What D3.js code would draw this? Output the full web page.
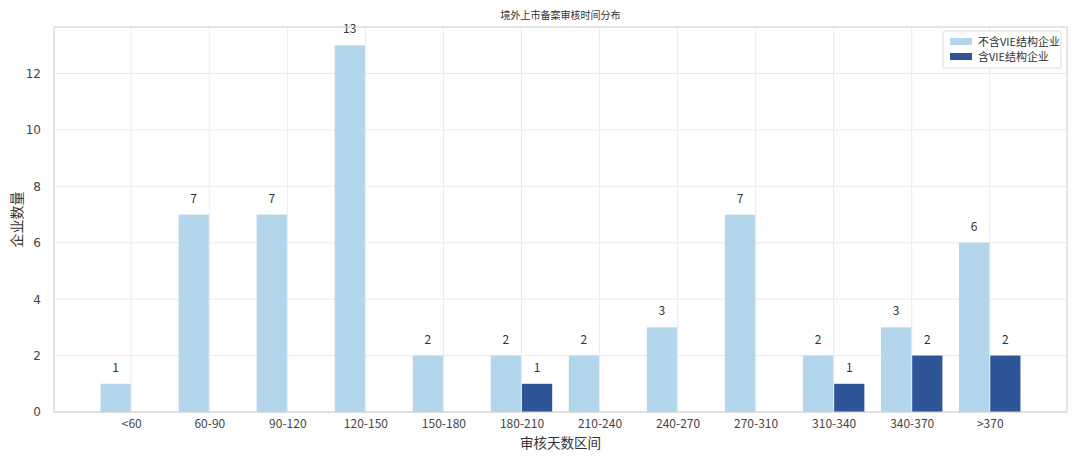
<!DOCTYPE html>
<html><head><meta charset="utf-8">
<script src="https://cdn.jsdelivr.net/npm/d3@7"></script>
<style>body{margin:0;background:#fff}svg{display:block}</style>
</head><body>
<script>
const categories = ["<60","60-90","90-120","120-150","150-180","180-210","210-240","240-270","270-310","310-340","340-370",">370"];
const nonVIE = [1,7,7,13,2,2,2,3,7,2,3,6];
const withVIE = [0,0,0,0,0,1,0,0,0,1,2,2];
const yTicks = [0,2,4,6,8,10,12];
const seriesNames = ["不含VIE结构企业","含VIE结构企业"];
const colors = ["#b4d6ec","#2e5597"];
const title = "境外上市备案审核时间分布";
const xTitle = "审核天数区间";
const yTitle = "企业数量";

const W=1080,H=463;
const m={l:54,r:13,t:27,b:51};
const font='"Noto Sans CJK SC","Noto Sans",sans-serif';
const svg=d3.select("body").append("svg").attr("width",W).attr("height",H);
const bw=0.4;
const x=d3.scaleLinear().domain([-0.99,categories.length-1+0.99]).range([m.l,W-m.r]);
const y=d3.scaleLinear().domain([0,13.65]).range([H-m.b,m.t]);

// grid
const g=svg.append("g");
g.selectAll(".vg").data(categories).join("line")
 .attr("x1",(d,i)=>x(i)).attr("x2",(d,i)=>x(i)).attr("y1",m.t).attr("y2",H-m.b)
 .attr("stroke","#ebebeb").attr("stroke-width",1);
g.selectAll(".hg").data(yTicks).join("line")
 .attr("x1",m.l).attr("x2",W-m.r).attr("y1",d=>y(d)).attr("y2",d=>y(d))
 .attr("stroke","#ebebeb").attr("stroke-width",1);

// bars
const series=[nonVIE,withVIE];
series.forEach((vals,s)=>{
  const off = s===0 ? -bw/2 : bw/2;
  svg.append("g").selectAll("rect").data(vals).join("rect")
   .attr("x",(d,i)=>x(i+off-bw/2)+0.5).attr("width",x(bw)-x(0)-1)
   .attr("y",d=>y(d)).attr("height",d=>y(0)-y(d))
   .attr("fill",colors[s]);
  svg.append("g").selectAll("text").data(vals.map((v,i)=>({v,i})).filter(d=>d.v>0)).join("text")
   .attr("x",d=>x(d.i+off)).attr("y",d=>y(d.v)-12)
   .attr("text-anchor","middle").attr("font-family",font).attr("font-size",12).attr("fill","#333")
   .text(d=>d.v);
});

// frame
svg.append("rect").attr("x",m.l).attr("y",m.t).attr("width",W-m.l-m.r).attr("height",H-m.t-m.b)
 .attr("fill","none").attr("stroke","#cccccc").attr("stroke-width",1);

// axes
const xa=svg.append("g").attr("transform",`translate(0,${H-m.b})`)
 .call(d3.axisBottom(x).tickValues(d3.range(categories.length)).tickFormat(i=>categories[i]).tickSize(0).tickPadding(7));
xa.select(".domain").remove();
xa.selectAll("text").attr("font-family",font).attr("font-size",12).attr("fill","#444");
const ya=svg.append("g").attr("transform",`translate(${m.l},0)`)
 .call(d3.axisLeft(y).tickValues(yTicks).tickSize(0).tickPadding(13));
ya.select(".domain").remove();
ya.selectAll("text").attr("font-family","'DejaVu Sans',sans-serif").attr("font-size",12).attr("fill","#444");

// titles
svg.append("text").attr("x",(m.l+W-m.r)/2).attr("y",19).attr("text-anchor","middle")
 .attr("font-family",font).attr("font-size",10).attr("fill","#333").text(title);
svg.append("text").attr("x",(m.l+W-m.r)/2).attr("y",448).attr("text-anchor","middle")
 .attr("font-family",font).attr("font-size",13.5).attr("fill","#333").text(xTitle);
svg.append("text").attr("transform",`translate(22,${(m.t+H-m.b)/2}) rotate(-90)`).attr("text-anchor","middle")
 .attr("font-family",font).attr("font-size",14).attr("fill","#333").text(yTitle);

// legend
const lg=svg.append("g").attr("transform","translate(943,31)");
lg.append("rect").attr("width",118).attr("height",37).attr("rx",2).attr("fill","#fff").attr("stroke","#dddddd");
seriesNames.forEach((n,i)=>{
  lg.append("rect").attr("x",7).attr("y",7+i*15).attr("width",22).attr("height",7).attr("fill",colors[i]);
  lg.append("text").attr("x",35).attr("y",14.5+i*15).attr("font-family",font).attr("font-size",11).attr("fill","#333").text(n);
});
</script>
</body></html>
